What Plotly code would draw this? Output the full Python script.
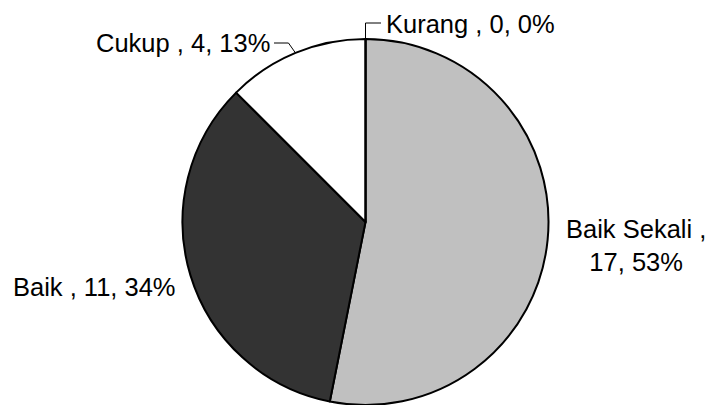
import math
import plotly.graph_objects as go

labels = ["Baik Sekali", "Baik", "Cukup", "Kurang"]
values = [17, 11, 4, 0]
percents = ["53%", "34%", "13%", "0%"]
colors = ["#C0C0C0", "#333333", "#FFFFFF", "#FFFFFF"]

W, H = 709, 405
cx, cy, r = 365.5, 222, 183  # screen pixels

def px(x):
    return x / W

def py(y):
    return 1 - y / H

fig = go.Figure(go.Pie(
    labels=labels, values=values, sort=False, direction="clockwise", rotation=0,
    marker=dict(colors=colors, line=dict(color="black", width=2)),
    textinfo="none", hoverinfo="label+value+percent", showlegend=False,
    domain=dict(x=[px(cx - r), px(cx + r)], y=[max(0, py(cy + r)), py(cy - r)]),
))

total = sum(values)
def edge_point(i):
    before = sum(values[:i])
    frac = (before + values[i] / 2) / total
    a = 2 * math.pi * frac
    return cx + r * math.sin(a), cy - r * math.cos(a)

font = dict(family="Liberation Sans, Arial, sans-serif", size=25.5, color="black")

label_pos = {
    0: dict(x=636, y=245, xanchor="center"),
    1: dict(x=178, y=287, xanchor="right"),
    2: dict(x=272, y=43, xanchor="right"),
    3: dict(x=384, y=24, xanchor="left"),
}
annotations = []
for i, lab in enumerate(labels):
    p = label_pos[i]
    text = f"{lab} , {values[i]}, {percents[i]}"
    if i == 0:
        text = f"{lab} ,<br>{values[i]}, {percents[i]}"
    annotations.append(dict(
        x=px(p["x"]), y=py(p["y"]), xref="paper", yref="paper",
        xanchor=p["xanchor"], yanchor="middle", text=text, showarrow=False,
        font=font, align="center",
    ))

shapes = []
ex, ey = edge_point(2)
shapes.append(dict(type="path", xref="paper", yref="paper",
                   path=f"M {px(ex)} {py(ey)} L {px(ex - 7)} {py(43)} L {px(274)} {py(43)}",
                   line=dict(color="black", width=1)))
ex, ey = edge_point(3)
shapes.append(dict(type="path", xref="paper", yref="paper",
                   path=f"M {px(ex)} {py(ey)} L {px(ex)} {py(23)} L {px(381)} {py(23)}",
                   line=dict(color="black", width=1)))

fig.update_layout(
    width=W, height=H, margin=dict(l=0, r=0, t=0, b=0),
    paper_bgcolor="white", plot_bgcolor="white",
    annotations=annotations, shapes=shapes,
)
fig.write_html(
    "out.html",
    config={"displayModeBar": False},
    post_script="document.body.style.margin='0';document.body.style.overflow='hidden';",
)
